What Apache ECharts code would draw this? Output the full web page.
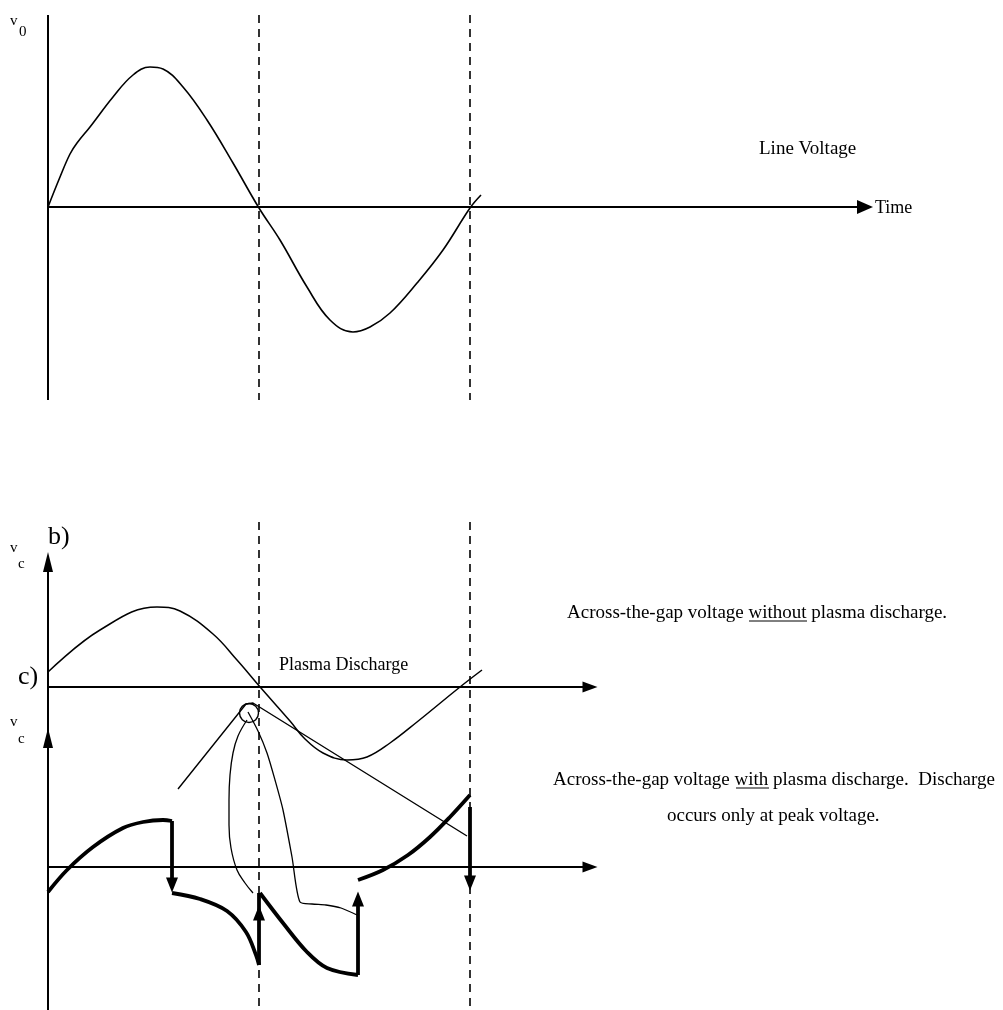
<!DOCTYPE html>
<html><head><meta charset="utf-8">
<script src="https://cdn.jsdelivr.net/npm/echarts@6/dist/echarts.min.js"></script>
<style>html,body{margin:0;padding:0;background:#fff}#c{width:1003px;height:1010px}</style>
</head><body><div id="c"></div>
<script>
// Diagram coordinates (x: time position, y: drawing units, downward)
const lineVoltage = [[48,207],[60,177],[70,154],[77,143],[90,127],[113,97],[133,75],[150,67],[163,69],[183,87],[207,120],[233,163],[259,208],[280,240],[307,287],[330,320],[353,332],[370,327],[390,313],[417,283],[443,250],[470,208],[481,195]];
const gapNoDischarge = [[48,672],[100,630],[157,607],[180,611],[213,634],[237,660],[261,688],[290,721],[305,739],[323,753],[347,760],[367,757],[390,743],[417,722],[460,687],[482,670]];
const tangentLine = [[178,789],[246,704],[253,703],[467,836]];
const peakMarker = [[249,713]];
const leftLoop = [[247,720],[238,736],[233,753],[230,775],[229,800],[229,825],[231,848],[237,870],[245,883],[253,893]];
const rightTrace = [[248,712],[258,731],[267,753],[275,780],[283,810],[292,857],[300,902],[312,904],[326,905],[341,908],[357,915]];
const segment1 = [[48,892],[67,870],[93,847],[123,828],[143,822],[163,820],[172,821]];
const segment2 = [[172,893],[200,899],[227,911],[246,932],[256,955],[259,965]];
const segment3 = [[260,893],[283,923],[307,952],[327,968],[358,975]];
const segment4 = [[358,880],[383,870],[408,855],[430,837],[450,817],[470,795]];
const drops = [[[172,821],[172,880]],[[470,807],[470,878]]];
const rises = [[[259,965],[259,893]],[[358,975],[358,905]]];
const downHeads = [[172,885],[470,883]];
const upHeads = [[259,913],[358,899]];
const topYAxis = [[48,15],[48,400]];
const topXAxis = [[48,207],[860,207]];
const bottomYAxis = [[48,570],[48,1010]];
const bAxis = [[48,687],[585,687]];
const cAxis = [[48,867],[585,867]];
const rightHeadsBig = [[865,207]];
const rightHeadsSmall = [[590,687],[590,867]];
const axisUpHeads = [[48,562],[48,738]];
const guides = [[[259,15],[259,400]],[[470,15],[470,400]],[[259,522],[259,1010]],[[470,522],[470,1010]]];

const K = '#000';
function line(data, w, extra) {
  return Object.assign({type:'line', data, symbol:'none', silent:true, animation:false,
    lineStyle:{color:K, width:w}}, extra||{});
}
function heads(data, sym, size) {
  return {type:'scatter', data, symbol:sym, symbolSize:size, symbolKeepAspect:false, silent:true, animation:false,
    itemStyle:{color:K, opacity:1}};
}
const series = [];
guides.forEach(g => series.push(line(g, 1.6, {lineStyle:{color:K, width:1.6, type:[8,6]}})));
[topYAxis, topXAxis, bottomYAxis, bAxis, cAxis].forEach(a => series.push(line(a, 2)));
series.push(heads(rightHeadsBig, 'path://M0,0 L10,5 L0,10 Z', [16,14]));
series.push(heads(rightHeadsSmall, 'path://M0,0 L10,5 L0,10 Z', [15,11]));
series.push(heads(axisUpHeads, 'path://M5,0 L10,10 L0,10 Z', [10,20]));
series.push(line(lineVoltage, 1.6, {smooth:0.4}));
series.push(line(gapNoDischarge, 1.5, {smooth:0.4}));
series.push(line(tangentLine, 1.4));
series.push(line(leftLoop, 1.3, {smooth:0.4}));
series.push(line(rightTrace, 1.3, {smooth:0.25}));
[segment1, segment2, segment3, segment4].forEach(s => series.push(line(s, 3.8, {smooth:0.35})));
drops.concat(rises).forEach(s => series.push(line(s, 3.8)));
series.push(heads(downHeads, 'path://M0,0 L10,0 L5,10 Z', [12,15]));
series.push(heads(upHeads, 'path://M5,0 L10,10 L0,10 Z', [12,15]));
series.push({type:'scatter', data:peakMarker, symbol:'circle', symbolSize:19, silent:true, animation:false,
  itemStyle:{color:'rgba(255,255,255,0)', opacity:1, borderColor:K, borderWidth:1.4}});

const F = '"Liberation Serif", "Times New Roman", serif';
function txt(text, x, y, size, align) {
  return {type:'text', silent:true, style:{text, x, y, font: size + 'px ' + F, fill:K,
    align: align||'left', verticalAlign:'middle'}};
}
const graphics = [
  txt('v', 10, 21, 15), txt('0', 19, 32, 15),
  txt('Line Voltage', 759, 149, 19),
  txt('Time', 875, 208, 18),
  txt('b)', 48, 537, 26),
  txt('v', 10, 548, 15), txt('c', 18, 564, 15),
  txt('c)', 18, 677, 26),
  txt('v', 10, 722, 15), txt('c', 18, 739, 15),
  txt('Plasma Discharge', 279, 665, 18),
  txt('Across-the-gap voltage without plasma discharge.', 567, 613, 19),
  txt('Across-the-gap voltage with plasma discharge.  Discharge', 553, 780, 19),
  txt('occurs only at peak voltage.', 667, 816, 19),
  {type:'line', silent:true, shape:{x1:749, y1:621, x2:807, y2:621}, style:{stroke:K, lineWidth:1}},
  {type:'line', silent:true, shape:{x1:736, y1:788, x2:769, y2:788}, style:{stroke:K, lineWidth:1}}
];

const chart = echarts.init(document.getElementById('c'));
chart.setOption({
  animation:false,
  backgroundColor:'#fff',
  grid:{left:0, right:0, top:0, bottom:0},
  xAxis:{type:'value', min:0, max:1003, show:false},
  yAxis:{type:'value', min:0, max:1010, inverse:true, show:false},
  series,
  graphic: graphics
});
</script></body></html>
